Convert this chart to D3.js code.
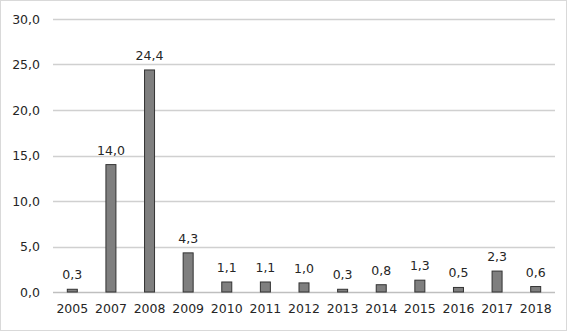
<!DOCTYPE html>
<html>
<head>
<meta charset="utf-8">
<script src="https://cdn.jsdelivr.net/npm/d3@7"></script>
<style>
  body { margin: 0; background: #fff; }
  text { font-family: "DejaVu Sans", sans-serif; font-size: 12.5px; fill: #262626; }
</style>
</head>
<body>
<svg width="567" height="331"></svg>
<script>
// chart data
var years = ['2005', '2007', '2008', '2009', '2010', '2011', '2012', '2013', '2014', '2015', '2016', '2017', '2018'];
var values = [0.3, 14.0, 24.4, 4.3, 1.1, 1.1, 1.0, 0.3, 0.8, 1.3, 0.5, 2.3, 0.6];
var yTicks = [0, 5, 10, 15, 20, 25, 30];

var svg = d3.select('svg');
var svgWidth = +svg.attr('width');
var svgHeight = +svg.attr('height');

var padding = {t: 19, r: 12, b: 39, l: 53};
var chartWidth = svgWidth - padding.l - padding.r;
var chartHeight = svgHeight - padding.t - padding.b;

// outer border
svg.append('rect')
    .attr('x', 0.5).attr('y', 0.5)
    .attr('width', svgWidth - 1).attr('height', svgHeight - 1)
    .attr('fill', 'none')
    .attr('stroke', '#d9d9d9');

var chartG = svg.append('g')
    .attr('transform', 'translate(' + [padding.l, padding.t] + ')');

var xScale = d3.scaleBand()
    .domain(years)
    .range([0, chartWidth]);

var yScale = d3.scaleLinear()
    .domain([0, 30])
    .range([chartHeight, 0]);

var fmt = function(d) { return d3.format('.1f')(d).replace('.', ','); };

// gridlines
chartG.selectAll('.grid')
    .data(yTicks)
    .enter()
    .append('line')
    .attr('class', 'grid')
    .attr('x1', 0)
    .attr('x2', chartWidth)
    .attr('y1', function(d) { return Math.round(yScale(d)) + 0.5; })
    .attr('y2', function(d) { return Math.round(yScale(d)) + 0.5; })
    .attr('stroke', function(d) { return d === 0 ? '#bfbfbf' : '#d0d0d0'; })
    .attr('stroke-width', 1.5);

// y axis labels
var yAxis = d3.axisLeft(yScale)
    .tickValues(yTicks)
    .tickFormat(fmt)
    .tickSize(0)
    .tickPadding(13);

chartG.append('g')
    .attr('class', 'y-axis')
    .call(yAxis)
    .call(function(g) { g.select('.domain').remove(); })
    .selectAll('text')
    .style('font-family', '"DejaVu Sans", sans-serif')
    .style('font-size', '12.5px')
    .attr('fill', '#262626');

// x axis labels
var xAxis = d3.axisBottom(xScale)
    .tickSize(0)
    .tickPadding(12);

chartG.append('g')
    .attr('class', 'x-axis')
    .attr('transform', 'translate(0,' + chartHeight + ')')
    .call(xAxis)
    .call(function(g) { g.select('.domain').remove(); })
    .selectAll('text')
    .style('font-family', '"DejaVu Sans", sans-serif')
    .style('font-size', '12.5px')
    .attr('fill', '#262626');

// bars
var barWidth = 10;
chartG.selectAll('.bar')
    .data(values)
    .enter()
    .append('rect')
    .attr('class', 'bar')
    .attr('x', function(d, i) { return xScale(years[i]) + xScale.bandwidth() / 2 - barWidth / 2; })
    .attr('y', function(d) { return yScale(d); })
    .attr('width', barWidth)
    .attr('height', function(d) { return chartHeight - yScale(d); })
    .attr('fill', '#7f7f7f')
    .attr('stroke', '#333333')
    .attr('stroke-width', 1);

// value labels
chartG.selectAll('.label')
    .data(values)
    .enter()
    .append('text')
    .attr('class', 'label')
    .attr('x', function(d, i) { return xScale(years[i]) + xScale.bandwidth() / 2; })
    .attr('y', function(d) { return yScale(d) - 10; })
    .attr('text-anchor', 'middle')
    .text(fmt);
</script>
</body>
</html>
